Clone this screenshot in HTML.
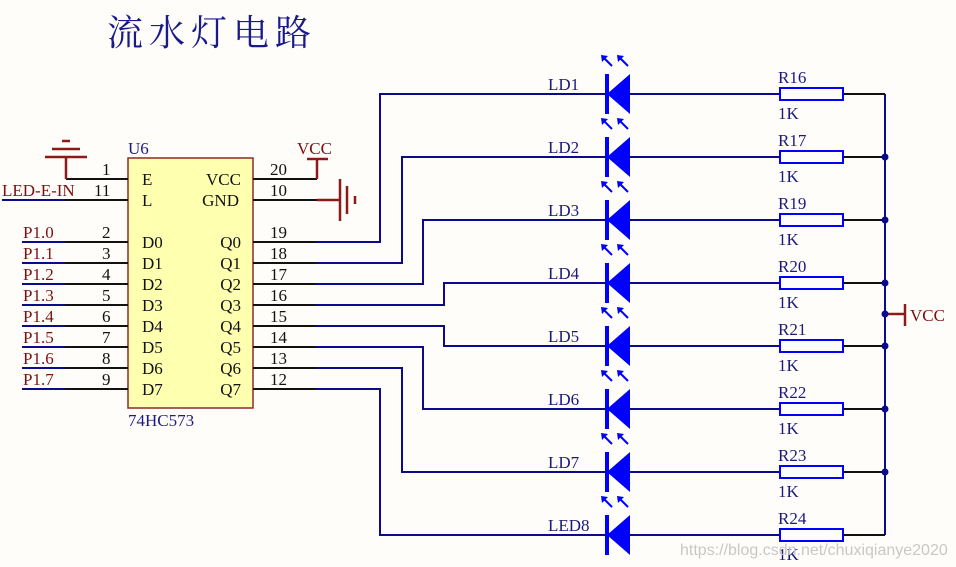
<!DOCTYPE html>
<html><head><meta charset="utf-8"><style>
html,body{margin:0;padding:0;background:#fffdf9;}
svg{display:block;}
text{font-family:"Liberation Serif","Noto Serif CJK SC",serif;}
</style></head><body>
<svg width="956" height="567" viewBox="0 0 956 567" xmlns="http://www.w3.org/2000/svg">
<rect width="956" height="567" fill="#fffdf9"/>
<text x="107" y="45" font-size="36" fill="#1a1a8a" letter-spacing="6" style="font-family:'Noto Serif CJK SC',serif">流水灯电路</text>

<!-- chip -->
<rect x="128" y="158" width="125" height="250" fill="#ffffb0" stroke="#8b2a2a" stroke-width="1.5"/>
<text x="128" y="154" font-size="17" fill="#1a1a8a">U6</text>
<text x="128" y="426" font-size="17" fill="#1a1a8a">74HC573</text>
<g font-size="17" fill="#111">
<text x="142" y="185">E</text><text x="142" y="206">L</text>
<text x="241" y="185" text-anchor="end">VCC</text><text x="239" y="206" text-anchor="end">GND</text>
<text x="142" y="248">D0</text><text x="142" y="269">D1</text><text x="142" y="290">D2</text><text x="142" y="311">D3</text>
<text x="142" y="332">D4</text><text x="142" y="353">D5</text><text x="142" y="374">D6</text><text x="142" y="395">D7</text>
<text x="241" y="248" text-anchor="end">Q0</text><text x="241" y="269" text-anchor="end">Q1</text><text x="241" y="290" text-anchor="end">Q2</text><text x="241" y="311" text-anchor="end">Q3</text>
<text x="241" y="332" text-anchor="end">Q4</text><text x="241" y="353" text-anchor="end">Q5</text><text x="241" y="374" text-anchor="end">Q6</text><text x="241" y="395" text-anchor="end">Q7</text>
<text x="102" y="175">1</text><text x="94" y="196">11</text>
<text x="102" y="238">2</text><text x="102" y="259">3</text><text x="102" y="280">4</text><text x="102" y="301">5</text>
<text x="102" y="322">6</text><text x="102" y="343">7</text><text x="102" y="364">8</text><text x="102" y="385">9</text>
<text x="270" y="175">20</text><text x="270" y="196">10</text>
<text x="270" y="238">19</text><text x="270" y="259">18</text><text x="270" y="280">17</text><text x="270" y="301">16</text>
<text x="270" y="322">15</text><text x="270" y="343">14</text><text x="270" y="364">13</text><text x="270" y="385">12</text>
</g>
<g stroke="#111" stroke-width="2">
<line x1="66" y1="179" x2="128" y2="179"/><line x1="65" y1="200" x2="128" y2="200"/>
<line x1="65" y1="242" x2="128" y2="242"/><line x1="65" y1="263" x2="128" y2="263"/><line x1="65" y1="284" x2="128" y2="284"/><line x1="65" y1="305" x2="128" y2="305"/>
<line x1="65" y1="326" x2="128" y2="326"/><line x1="65" y1="347" x2="128" y2="347"/><line x1="65" y1="368" x2="128" y2="368"/><line x1="65" y1="389" x2="128" y2="389"/>
<line x1="253" y1="179" x2="317" y2="179"/><line x1="253" y1="200" x2="317" y2="200"/>
<line x1="253" y1="242" x2="316" y2="242"/><line x1="253" y1="263" x2="316" y2="263"/><line x1="253" y1="284" x2="316" y2="284"/><line x1="253" y1="305" x2="316" y2="305"/>
<line x1="253" y1="326" x2="316" y2="326"/><line x1="253" y1="347" x2="316" y2="347"/><line x1="253" y1="368" x2="316" y2="368"/><line x1="253" y1="389" x2="316" y2="389"/>
</g>
<g stroke="#0a0a8a" stroke-width="2">
<line x1="2" y1="200" x2="65" y2="200"/>
<line x1="22" y1="242" x2="65" y2="242"/><line x1="22" y1="263" x2="65" y2="263"/><line x1="22" y1="284" x2="65" y2="284"/><line x1="22" y1="305" x2="65" y2="305"/>
<line x1="22" y1="326" x2="65" y2="326"/><line x1="22" y1="347" x2="65" y2="347"/><line x1="22" y1="368" x2="65" y2="368"/><line x1="22" y1="389" x2="65" y2="389"/>
</g>
<g font-size="17" fill="#7a1010">
<text x="2" y="196">LED-E-IN</text>
<text x="23" y="238">P1.0</text><text x="23" y="259">P1.1</text><text x="23" y="280">P1.2</text><text x="23" y="301">P1.3</text>
<text x="23" y="322">P1.4</text><text x="23" y="343">P1.5</text><text x="23" y="364">P1.6</text><text x="23" y="385">P1.7</text>
<text x="297" y="154">VCC</text>
</g>
<g stroke="#8b1a1a" stroke-width="2.5">
<line x1="66" y1="157" x2="66" y2="179"/>
<line x1="45" y1="157" x2="87" y2="157"/><line x1="52" y1="149" x2="80" y2="149"/><line x1="62" y1="141" x2="70" y2="141"/>
<line x1="307" y1="159" x2="328" y2="159"/><line x1="317" y1="159" x2="317" y2="179"/>
<line x1="317" y1="200" x2="340" y2="200"/>
<line x1="340" y1="179" x2="340" y2="221"/><line x1="347" y1="186" x2="347" y2="214"/><line x1="355" y1="196" x2="355" y2="204"/>
<line x1="885" y1="314" x2="905" y2="314"/><line x1="905" y1="304" x2="905" y2="326"/>
</g>
<text x="910" y="321" font-size="17" fill="#7a1010">VCC</text>

<g stroke="#0a0a8a" stroke-width="2" fill="none">
<polyline points="316,242 380,242 380,94 607,94"/>
<polyline points="316,263 402,263 402,157 607,157"/>
<polyline points="316,284 423,284 423,220 607,220"/>
<polyline points="316,305 444,305 444,283 607,283"/>
<polyline points="316,326 444,326 444,346 607,346"/>
<polyline points="316,347 423,347 423,409 607,409"/>
<polyline points="316,368 402,368 402,472 607,472"/>
<polyline points="316,389 380,389 380,535 607,535"/>
<line x1="885" y1="94" x2="885" y2="535"/>
</g>
<defs>
<g id="led">
<line x1="630" y1="0" x2="780" y2="0" stroke="#0a0a8a" stroke-width="2"/>
<line x1="843" y1="0" x2="885" y2="0" stroke="#111" stroke-width="2"/>
<line x1="607" y1="-20" x2="607" y2="20" stroke="#0000ff" stroke-width="4"/>
<polygon points="607,0 630,-20 630,20" fill="#0000ff"/>
<rect x="780" y="-6" width="63" height="12" fill="none" stroke="#0000ff" stroke-width="2"/>
<g stroke="#0000ff" stroke-width="2"><line x1="612" y1="-28" x2="603" y2="-37"/><line x1="628" y1="-28" x2="619" y2="-37"/></g>
<polygon points="601,-39 608,-38 602,-32" fill="#0000ff"/><polygon points="617,-39 624,-38 618,-32" fill="#0000ff"/>
<text x="778" y="25" font-size="17" fill="#1a1a7a">1K</text>
</g>
</defs>
<use href="#led" y="94"/><use href="#led" y="157"/><use href="#led" y="220"/><use href="#led" y="283"/>
<use href="#led" y="346"/><use href="#led" y="409"/><use href="#led" y="472"/><use href="#led" y="535"/>
<g font-size="17" fill="#1a1a7a">
<text x="548" y="90">LD1</text><text x="548" y="153">LD2</text><text x="548" y="216">LD3</text><text x="548" y="279">LD4</text>
<text x="548" y="342">LD5</text><text x="548" y="405">LD6</text><text x="548" y="468">LD7</text><text x="548" y="531">LED8</text>
<text x="778" y="83">R16</text><text x="778" y="146">R17</text><text x="778" y="209">R19</text><text x="778" y="272">R20</text>
<text x="778" y="335">R21</text><text x="778" y="398">R22</text><text x="778" y="461">R23</text><text x="778" y="524">R24</text>
</g>
<g fill="#0a0a8a">
<circle cx="885" cy="157" r="3.5"/><circle cx="885" cy="220" r="3.5"/><circle cx="885" cy="283" r="3.5"/><circle cx="885" cy="314" r="3.5"/>
<circle cx="885" cy="346" r="3.5"/><circle cx="885" cy="409" r="3.5"/><circle cx="885" cy="472" r="3.5"/>
</g>
<text x="680" y="555" font-size="16" fill="#c8c8c8" style="font-family:'Liberation Sans',sans-serif">https://blog.csdn.net/chuxiqianye2020</text>
</svg>
</body></html>
